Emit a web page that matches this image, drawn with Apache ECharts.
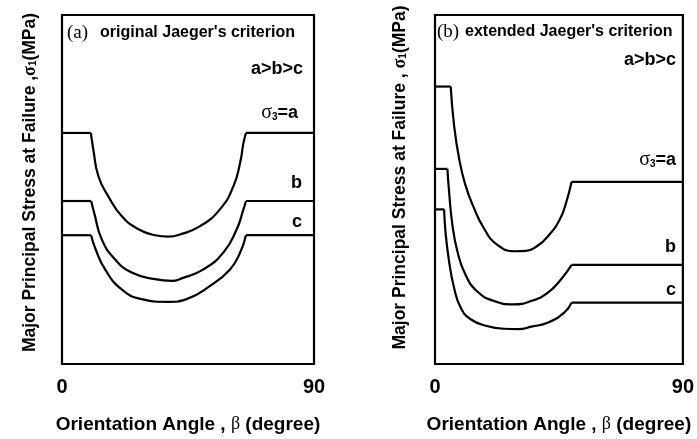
<!DOCTYPE html>
<html>
<head>
<meta charset="utf-8">
<script src="https://cdn.jsdelivr.net/npm/echarts@6/dist/echarts.min.js"></script>
<style>html,body{margin:0;padding:0;background:#fff;}#c{width:697px;height:439px;}</style>
</head>
<body>
<div id="c"></div>
<script>
// x tick labels (degrees)
const xTicks = [0, 90];
// Panel (a): original Jaeger's criterion — [beta, sigma1 (relative)]
const leftA = [[0,66.2],[10.3,66.2],[11.2,61.4],[13.0,53.8],[16.5,48.1],[21.3,42.4],[27.3,38.6],[33.2,36.9],[38.0,36.5],[42.1,37.1],[49.3,39.5],[56.4,44.3],[61.2,50.9],[63.6,57.6],[64.8,63.3],[65.7,66.2],[90,66.2]];
const leftB = [[0,46.7],[10.4,46.7],[11.5,43.3],[14.2,35.7],[18.9,30.0],[24.9,26.2],[33.2,24.3],[39.2,23.8],[43.0,24.6],[50.5,27.1],[57.6,31.9],[62.4,38.6],[64.8,44.3],[65.7,46.7],[90,46.7]];
const leftC = [[0,36.9],[10.4,36.9],[11.8,33.3],[15.4,27.1],[21.3,21.4],[28.5,18.6],[38.0,17.8],[44.5,18.6],[52.9,22.4],[60.0,27.1],[63.6,31.9],[65.7,36.9],[90,36.9]];
// Panel (b): extended Jaeger's criterion
const rightA = [[0,79.5],[5.7,79.5],[6.9,68.6],[8.7,59.1],[11.0,51.4],[14.1,44.8],[17.6,39.1],[22.4,34.3],[29.1,32.3],[33.0,32.4],[36.0,33.2],[41.1,36.7],[45.3,41.4],[47.6,46.2],[49.6,52.2],[90,52.2]];
const rightB = [[0,55.9],[4.5,55.9],[5.1,49.5],[6.3,40.0],[8.1,32.4],[11.0,25.7],[15.2,20.9],[21.2,18.1],[28.4,17.1],[35.1,18.1],[41.1,20.5],[45.8,24.3],[49.6,28.4],[90,28.4]];
const rightC = [[0,44.3],[3.3,44.3],[3.9,37.1],[5.1,29.5],[6.9,21.9],[9.3,16.2],[12.8,12.9],[18.8,10.9],[24.9,10.1],[30.3,10.0],[35.0,10.7],[41.1,11.9],[47.0,14.8],[49.6,17.6],[90,17.6]];

const SANS = 'Liberation Sans, Arial, sans-serif';
const SERIF = 'Liberation Serif, Times New Roman, serif';

function curveSeries(pts, idx) {
  const base = {type:'line', xAxisIndex: idx, yAxisIndex: idx, symbol:'none', silent:true,
    lineStyle:{color:'#000', width:2.2}, animation:false};
  return [
    Object.assign({}, base, {data: pts.slice(0,2)}),
    Object.assign({}, base, {data: pts.slice(1,-1), smooth:0.5}),
    Object.assign({}, base, {data: pts.slice(-2)})
  ];
}

const richSig = {
  s:{fontFamily:SERIF, fontSize:20, fontWeight:'normal', color:'#000'},
  sub:{fontFamily:SANS, fontSize:10, fontWeight:'bold', color:'#000', padding:[8,0,0,0]},
  t:{fontFamily:SANS, fontSize:18, fontWeight:'bold', color:'#000'},
  ser:{fontFamily:SERIF, fontSize:19, fontWeight:'normal', color:'#000'},
  bser:{fontFamily:SERIF, fontSize:18, fontWeight:'normal', color:'#000'}
};

function xAx(idx) {
  return {type:'value', gridIndex: idx, min: xTicks[0], max: xTicks[1], interval: 90,
    axisLine:{show:false}, axisTick:{show:false}, splitLine:{show:false},
    axisLabel:{fontFamily:SANS, fontWeight:'bold', fontSize:20, color:'#000', margin:13},
    name:'Orientation Angle , {bser|β} (degree)', nameLocation:'middle', nameGap:51,
    nameTextStyle:{fontFamily:SANS, fontWeight:'bold', fontSize:19, color:'#000', rich: richSig}};
}
function yAx(idx, name, gap, shift) {
  return {type:'value', gridIndex: idx, min:0, max:100,
    axisLine:{show:false}, axisTick:{show:false}, splitLine:{show:false}, axisLabel:{show:false},
    name: name, nameLocation:'middle', nameRotate:90, nameGap: gap,
    nameTextStyle:{fontFamily:SANS, fontWeight:'bold', fontSize:17.5, color:'#000', padding:[0,0,0,shift],
      rich:{s:{fontFamily:SERIF, fontSize:18, color:'#000'}, sub:{fontFamily:SANS, fontSize:10, fontWeight:'bold', color:'#000', padding:[7,0,0,0]}}}};
}

function txt(x, y, text, align, extra) {
  return {type:'text', x:x, y:y, silent:true, style:Object.assign({text:text, textAlign:align||'left', textVerticalAlign:'middle',
    fontFamily:SANS, fontWeight:'bold', fontSize:18, fill:'#000', rich: richSig}, extra||{})};
}

const option = {
  backgroundColor:'#fff',
  animation:false,
  grid:[
    {left:62, top:15, width:252, height:350, show:true, borderColor:'#000', borderWidth:2.2, backgroundColor:'transparent'},
    {left:435, top:15, width:251, height:350, show:true, borderColor:'#000', borderWidth:2.2, backgroundColor:'transparent'}
  ],
  xAxis:[xAx(0), xAx(1)],
  yAxis:[
    yAx(0, 'Major Principal Stress at Failure ,{s|σ}{sub|1}(MPa)', 23, 14),
    yAx(1, 'Major Principal Stress at Failure , {s|σ}{sub|1}(MPa)', 26, 24)
  ],
  series:[].concat(
    curveSeries(leftA,0), curveSeries(leftB,0), curveSeries(leftC,0),
    curveSeries(rightA,1), curveSeries(rightB,1), curveSeries(rightC,1)
  ),
  graphic:[
    txt(67, 33, '{ser|(a)}', 'left'),
    txt(100, 33, "original Jaeger's criterion", 'left', {fontSize:16}),
    txt(303, 69, 'a>b>c', 'right'),
    txt(298, 113, '{s|σ}{sub|3}{t|=a}', 'right'),
    txt(302, 183, 'b', 'right'),
    txt(302, 222, 'c', 'right'),
    txt(437, 32, '{ser|(b)}', 'left'),
    txt(465, 32, "extended Jaeger's criterion", 'left', {fontSize:16}),
    txt(676, 60, 'a>b>c', 'right'),
    txt(676, 160, '{s|σ}{sub|3}{t|=a}', 'right'),
    txt(676, 247, 'b', 'right'),
    txt(676, 290, 'c', 'right')
  ]
};
const chart = echarts.init(document.getElementById('c'), null, {renderer:'canvas'});
chart.setOption(option);
</script>
</body>
</html>
